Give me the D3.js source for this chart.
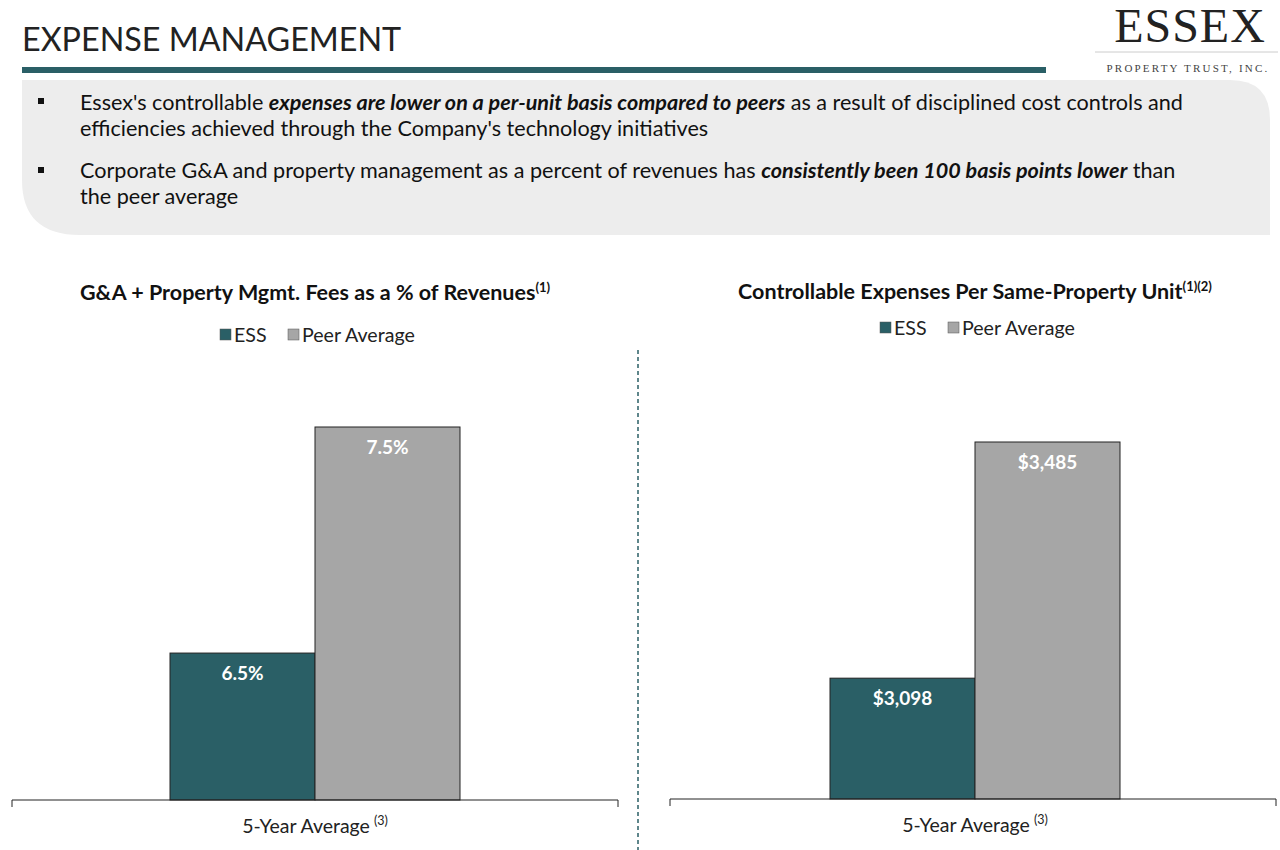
<!DOCTYPE html><html><head><meta charset="utf-8"><script src="https://cdn.jsdelivr.net/npm/d3@7"></script>
<style>body{margin:0;background:#fff}svg{font-family:Lato,"Open Sans",sans-serif}</style></head><body>
<svg id="c" width="1280" height="850"></svg>
<script>
const series=["ESS","Peer Average"];
const colors=["#2a5f66","#a6a6a6"];
const leftValues=[6.5,7.5], leftLabels=["6.5%","7.5%"];
const rightValues=[3098,3485], rightLabels=["$3,098","$3,485"];
const category=["5-Year Average"];
const svg=d3.select("#c");
svg.append("text").attr("x",22).attr("y",51).attr("font-size",32.3).attr("fill","#222").text("EXPENSE MANAGEMENT");
svg.append("rect").attr("x",22).attr("y",67).attr("width",1024).attr("height",6).attr("fill","#2a5f66");
svg.append("path").attr("d","M22,80 H1230 Q1270,80 1270,120 V235 H80 Q22,235 22,180 Z").attr("fill","#ededed");
svg.append("text").attr("x",1190).attr("y",42).attr("text-anchor","middle").attr("font-family","Liberation Serif,serif").attr("font-size",48).attr("fill","#222").attr("letter-spacing",1).text("ESSEX");
svg.append("line").attr("x1",1095).attr("x2",1278).attr("y1",52).attr("y2",52).attr("stroke","#ccc");
svg.append("text").attr("x",1188).attr("y",72).attr("text-anchor","middle").attr("font-family","Liberation Serif,serif").attr("font-size",11).attr("letter-spacing",2.2).attr("fill","#444").text("PROPERTY TRUST, INC.");
const b=svg.append("g").attr("font-size",21.6).attr("fill","#111");
b.append("rect").attr("x",38).attr("y",98).attr("width",6).attr("height",6);
b.append("rect").attr("x",38).attr("y",167).attr("width",6).attr("height",6);
let t=b.append("text").attr("x",80).attr("y",110);
t.append("tspan").text("Essex's controllable ");
t.append("tspan").attr("font-weight","bold").attr("font-style","italic").text("expenses are lower on a per-unit basis compared to peers");
t.append("tspan").text(" as a result of disciplined cost controls and");
b.append("text").attr("x",80).attr("y",136).text("efficiencies achieved through the Company's technology initiatives");
t=b.append("text").attr("x",80).attr("y",178);
t.append("tspan").text("Corporate G&A and property management as a percent of revenues has ");
t.append("tspan").attr("font-weight","bold").attr("font-style","italic").text("consistently been 100 basis points lower");
t.append("tspan").text(" than");
b.append("text").attr("x",80).attr("y",204).text("the peer average");
svg.append("line").attr("x1",638).attr("x2",638).attr("y1",350).attr("y2",850).attr("stroke","#2a5f66").attr("stroke-dasharray","4,3").attr("stroke-width",1.5);
function chart(o){
  const g=svg.append("g");
  const t=g.append("text").attr("x",o.cx).attr("y",o.ty).attr("text-anchor","middle").attr("font-size",21.5).attr("font-weight","bold").attr("fill","#111").text(o.title);
  t.append("tspan").attr("font-size",13).attr("dy",-8).text(o.sup);
  const lg=g.append("g").attr("transform",`translate(${o.cx-95},${o.ly})`).attr("font-size",19.6);
  let xx=0;
  series.forEach((s,i)=>{lg.append("rect").attr("x",xx).attr("y",-13).attr("width",11).attr("height",11).attr("fill",colors[i]).attr("stroke","#555").attr("stroke-width",0.5);
    lg.append("text").attr("x",xx+14).attr("y",0).attr("fill","#222").text(s);xx+=i?0:68;});
  const x0=d3.scaleBand().domain(category).range([o.x1,o.x2]);
  const x1=d3.scaleBand().domain(series).range([o.cx-145,o.cx+145]);
  const y=d3.scaleLinear().domain(o.dom).range([o.base,o.top]);
  o.vals.forEach((v,i)=>{
    g.append("rect").attr("x",x1(series[i])).attr("width",x1.bandwidth()).attr("y",y(v)).attr("height",o.base-y(v)).attr("fill",colors[i]).attr("stroke","#222").attr("stroke-width",1);
    g.append("text").attr("x",x1(series[i])+x1.bandwidth()/2).attr("y",y(v)+27).attr("text-anchor","middle").attr("font-size",19).attr("font-weight","bold").attr("fill","#fff").text(o.labels[i]);
  });
  const ax=g.append("g").attr("transform",`translate(0,${o.base})`).call(d3.axisBottom(x0).tickSize(0).tickFormat(""));
  ax.select(".domain").attr("stroke","#222").attr("d",`M${o.x1},7V0H${o.x2}V7`);
  const lt=g.append("text").attr("x",o.cx).attr("y",o.base+33).attr("text-anchor","middle").attr("font-size",19.5).attr("fill","#222").text(category[0]);
  lt.append("tspan").attr("font-size",12.5).attr("dy",-8).attr("dx",4).text("(3)");
}
chart({cx:315,x1:12,x2:618,base:800,top:427,dom:[5.85,7.5],vals:leftValues,labels:leftLabels,title:"G&A + Property Mgmt. Fees as a % of Revenues",sup:"(1)",ty:300,ly:342});
chart({cx:975,x1:670,x2:1276,base:799,top:442,dom:[2900,3485],vals:rightValues,labels:rightLabels,title:"Controllable Expenses Per Same-Property Unit",sup:"(1)(2)",ty:299,ly:335});
</script></body></html>
